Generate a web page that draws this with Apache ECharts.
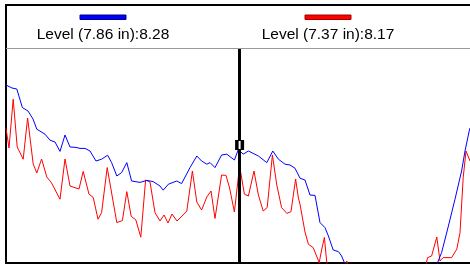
<!DOCTYPE html>
<html>
<head>
<meta charset="utf-8">
<script src="https://cdn.jsdelivr.net/npm/echarts@6/dist/echarts.min.js"></script>
<style>html,body{margin:0;padding:0;background:#fff}#c{width:470px;height:265px}</style>
</head>
<body>
<div id="c"></div>
<script>
// Series names / legend labels
var seriesNames = ['Level (7.86 in):8.28', 'Level (7.37 in):8.17'];
var seriesColors = ['#0000ff', '#ff0000'];

// Blue series: [position, level]
var blueData = [
 [0,8.9],[1.5,8.75],[2.7,8.7],[4.1,7.77],[5.5,7.6],[6.75,7.2],[7.7,6.69],[9.75,6.44],[11,6.14],[12.25,6.05],
 [13.5,5.58],[14.75,6.4],[16,5.8],[17.5,5.78],[18.5,5.73],[19.75,5.73],[21,5.6],[22.5,5.1],[23.9,5.19],[25.4,5.39],
 [26.4,5.02],[27.7,4.35],[28.9,4.52],[30.2,5.02],[31.4,4.1],[33.5,4.03],[35.2,4.13],[36.8,4.07],[38.5,3.85],[39.3,3.64],
 [40.6,3.94],[42.7,4.1],[43.9,3.97],[46,4.77],[47.7,5.35],[48.9,5.1],[50.2,4.94],[51,5.02],[52.25,4.77],[53.9,5.4],
 [55.2,5.44],[57.1,5.15],[58.1,5.68],[59.3,5.44],[60.6,5.6],[63.1,5.35],[65.2,5.02],[66.7,5.6],[68.1,5.19],[69.75,4.94],
 [71,4.9],[72.25,4.74],[73.5,4.24],[74.75,4.15],[76,3.4],[77.25,3.38],[78.5,2.02],[79.75,1.77],[80.6,1.35],[81.8,0.65],
 [83.1,0.57],[83.9,0.35],[84.75,-0.05],[86,-0.5],[92,-1.2],[100,-1.5],[106.5,-0.5],[107.7,-0.07],[108.9,0.52],[110.6,1.85],
 [112.25,3.19],[113.9,4.6],[114.75,5.6],[115.8,6.6],[116,6.75]
];

// Red series: [position, level]
var redData = [
 [0,6.73],[0.75,5.75],[1.8,8.19],[2.8,5.8],[4.3,5.19],[5.4,7.25],[6.8,4.95],[7.7,4.5],[8.9,5.2],[10.2,4.3],
 [11.4,4.0],[13.5,3.19],[14.75,5.2],[16,3.85],[18.25,3.7],[19.3,4.58],[20.75,3.44],[21.8,3.28],[23,2.19],[23.9,2.52],
 [25.3,4.77],[27.7,2.02],[29.1,2.12],[30.2,3.57],[31.3,2.33],[32.45,2.16],[33.7,1.29],[34.9,4.15],[36,4.05],[37.25,2.52],
 [38.5,2.1],[39.5,2.4],[40.5,2.0],[41.5,2.45],[42.75,2.1],[43.75,2.3],[45.2,2.6],[46.6,4.6],[47.7,3.05],[48.9,2.65],
 [50.2,3.3],[51.25,3.6],[52.25,2.23],[53.9,4.4],[55,4.38],[55.9,3.75],[57.1,2.55],[58.4,4.85],[58.9,4.8],[59.6,3.44],
 [60.6,3.35],[62,4.6],[63.1,3.4],[64.3,2.6],[65.3,2.77],[66.6,5.4],[67.7,3.9],[68.9,2.77],[70.2,2.48],[71.25,2.57],
 [72.4,4.2],[73.1,3.25],[73.5,2.94],[74.25,2.1],[74.75,1.55],[75.6,0.94],[76.8,0.77],[78.3,0.02],[78.9,0.65],[79.6,1.28],
 [80.2,0],[80.75,-0.5],[83,-0.65],[84.5,-0.4],[85.2,0.1],[85.6,0.19],[86,-0.5],[95,-1.3],[104.5,-0.5],[105.4,0.27],
 [106.4,0.35],[107.7,1.3],[108.5,0.1],[109.3,0.27],[111.4,0.27],[112.7,0.69],[113.5,1.52],[114.3,4.27],[115,5.6],[116,5.1]
];

// Cursor position and marker level
var cursorX = 58.4;
var cursorMarkY = 5.9;

var xRange = [0, 116];
var yRange = [0, 10.75];

var chart = echarts.init(document.getElementById('c'), null, {renderer: 'canvas'});

var legendCenters = [103, 328];
var graphics = [
  {type:'line', shape:{x1:5, y1:5, x2:470, y2:5}, style:{stroke:'#000', lineWidth:2}, z:10},
  {type:'line', shape:{x1:6, y1:4, x2:6, y2:48}, style:{stroke:'#000', lineWidth:2}, z:10},
  {type:'line', shape:{x1:6, y1:48.5, x2:470, y2:48.5}, style:{stroke:'#999', lineWidth:1}, z:10}
];
seriesNames.forEach(function(n, i){
  graphics.push({type:'rect', shape:{x:legendCenters[i]-23, y:15, width:46, height:4.5},
    style:{fill:seriesColors[i], stroke:i===0?'#00008a':'#a00000', lineWidth:1}, z:10});
  graphics.push({type:'text', x:legendCenters[i], y:35,
    style:{text:n, fill:'#000', font:'15.5px "Liberation Sans", Arial, sans-serif', textAlign:'center', textVerticalAlign:'middle'}, z:10});
});

chart.setOption({
  animation: false,
  backgroundColor: '#fff',
  grid: {left: 6, right: 0, top: 48, bottom: 2, containLabel: false},
  xAxis: {type:'value', min:xRange[0], max:xRange[1],
    axisLine:{show:true, onZero:false, lineStyle:{color:'#000', width:2}},
    axisTick:{show:false}, axisLabel:{show:false}, splitLine:{show:false}},
  yAxis: {type:'value', min:yRange[0], max:yRange[1],
    axisLine:{show:true, onZero:false, lineStyle:{color:'#000', width:2}},
    axisTick:{show:false}, axisLabel:{show:false}, splitLine:{show:false}},
  graphic: graphics,
  series: [
    {name:seriesNames[0], type:'line', data:blueData, showSymbol:false, clip:true, z:3,
     lineStyle:{color:seriesColors[0], width:1}, itemStyle:{color:seriesColors[0]},
     markLine:{silent:true, symbol:'none', label:{show:false}, animation:false,
       lineStyle:{color:'#000', width:3, type:'solid'}, data:[{xAxis:cursorX}]},
     markPoint:{silent:true, animation:false, label:{show:false},
       data:[
         {coord:[cursorX, cursorMarkY], symbol:'rect', symbolSize:[9,10], itemStyle:{color:'#000'}},
         {coord:[cursorX, cursorMarkY], symbol:'rect', symbolSize:[2,8], itemStyle:{color:'#fff'}}
       ]}
    },
    {name:seriesNames[1], type:'line', data:redData, showSymbol:false, clip:true, z:2,
     lineStyle:{color:seriesColors[1], width:1}, itemStyle:{color:seriesColors[1]}}
  ]
});
</script>
</body>
</html>
